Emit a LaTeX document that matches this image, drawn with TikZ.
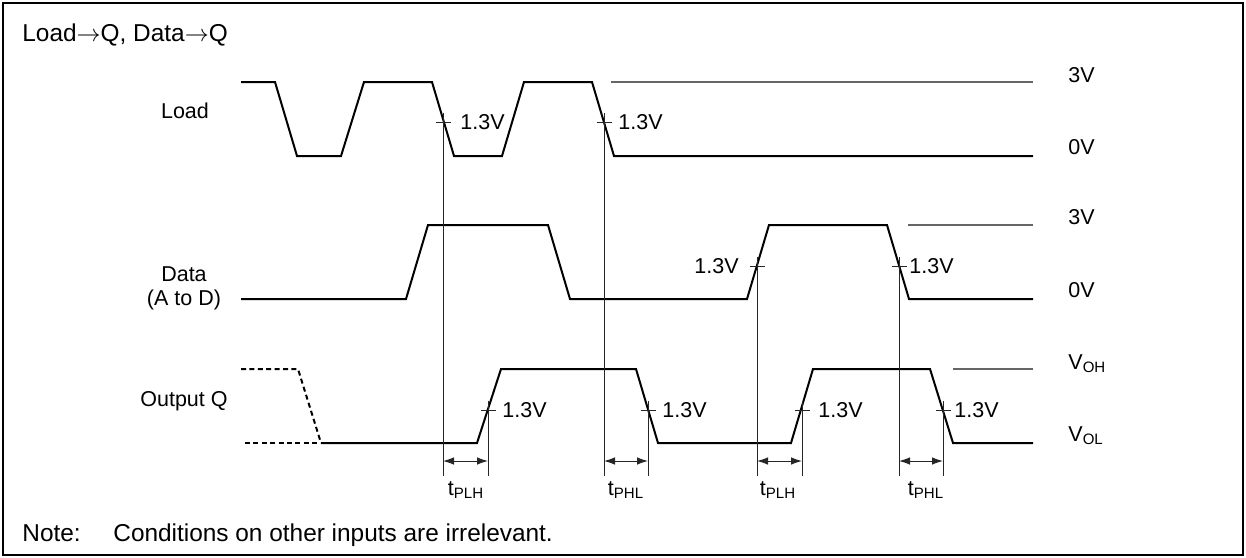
\documentclass[tikz,border=0pt]{standalone}
\usepackage{fontspec}
\setmainfont{Liberation Sans}
\usepackage{tikz}
\usetikzlibrary{arrows.meta,calc}

\begin{document}
\begin{tikzpicture}[x=0.5pt,y=-0.5pt,
  wave/.style={line width=1pt,line join=miter},
  wavedash/.style={wave,dash pattern=on 2.5pt off 1.7pt},
  level/.style={line width=0.6pt,black!60},
  guide/.style={line width=0.5pt,black!85},
  delay/.style={guide,{Latex[length=5.5pt,width=3.8pt]}-{Latex[length=5.5pt,width=3.8pt]}},
  lbl/.style={font=\fontsize{10.75}{13}\selectfont,inner sep=0pt},
  head/.style={font=\fontsize{12.2}{14}\selectfont,inner sep=0pt,anchor=base west}]
\useasboundingbox (0,0) rectangle (1246,557);
\draw[line width=1.1pt] (3,3) rectangle (1243,555);

\node[head] (title) at (22,41) {Load$\rightarrow$Q, Data$\rightarrow$Q};
\node[head] (note) at (22,541) {Note:};
\node[head] (cond) at (113,541) {Conditions on other inputs are irrelevant.};

\node[lbl] (load) at (185,111) {Load};
\node[lbl] (data) at (184,274) {Data};
\node[lbl] (atod) at (184,300) {(A to D)};
\node[lbl] (outq) at (184,401) {Output Q};

\draw[wave] (241,82) -- (275,82) -- (297,156) -- (341,156) -- (364,82) -- (432,82)
  -- (454,156) -- (502,156) -- (524,82) -- (592,82) -- (614,156) -- (1033,156);
\draw[wave] (241,299) -- (406,299) -- (428,225) -- (548,225) -- (570,299) -- (747,299)
  -- (769,225) -- (887,225) -- (909,299) -- (1033,299);
\draw[wavedash] (241,369) -- (298,369) -- (321,443);
\draw[wavedash] (245,443) -- (321,443);
\draw[wave] (321,443) -- (477,443) -- (501,369) -- (636,369) -- (658,443) -- (791,443)
  -- (813,369) -- (930,369) -- (953,443) -- (1033,443);

\draw[level] (611,82) -- (1033,82);
\draw[level] (908,225) -- (1033,225);
\draw[level] (953,369) -- (1033,369);

\node[lbl,anchor=west] (l3v) at (1068,75) {3V};
\node[lbl,anchor=west] (l0v) at (1068,147) {0V};
\node[lbl,anchor=west] (d3v) at (1068,217) {3V};
\node[lbl,anchor=west] (d0v) at (1068,290) {0V};
\node[lbl,anchor=west] (voh) at (1068,364) {V\textsubscript{OH}};
\node[lbl,anchor=west] (vol) at (1068,436) {V\textsubscript{OL}};

\foreach \x/\y in {443/122,604/122,757/266,899/266,488/410,648/410,802/410,943/410}{
  \draw[guide] (\x-7.5,\y) -- (\x+7.5,\y);
  \draw[guide] (\x,\y-9) -- (\x,476);
}

\node[lbl,anchor=west] (ld1) at (460,122) {1.3V};
\node[lbl,anchor=west] (ld2) at (618,122) {1.3V};
\node[lbl,anchor=east] (dt1) at (739,266) {1.3V};
\node[lbl,anchor=west] (dt2) at (909,266) {1.3V};
\node[lbl,anchor=west] (oq1) at (502,410) {1.3V};
\node[lbl,anchor=west] (oq2) at (662,410) {1.3V};
\node[lbl,anchor=west] (oq3) at (818,410) {1.3V};
\node[lbl,anchor=west] (oq4) at (954,410) {1.3V};

\draw[delay] (443,461) -- (488,461);
\draw[delay] (604,461) -- (648,461);
\draw[delay] (757,461) -- (802,461);
\draw[delay] (899,461) -- (943,461);

\node[lbl] (tplh1) at (466,490) {t\textsubscript{PLH}};
\node[lbl] (tphl1) at (626,490) {t\textsubscript{PHL}};
\node[lbl] (tplh2) at (778,490) {t\textsubscript{PLH}};
\node[lbl] (tphl2) at (926,490) {t\textsubscript{PHL}};
\end{tikzpicture}
\end{document}
